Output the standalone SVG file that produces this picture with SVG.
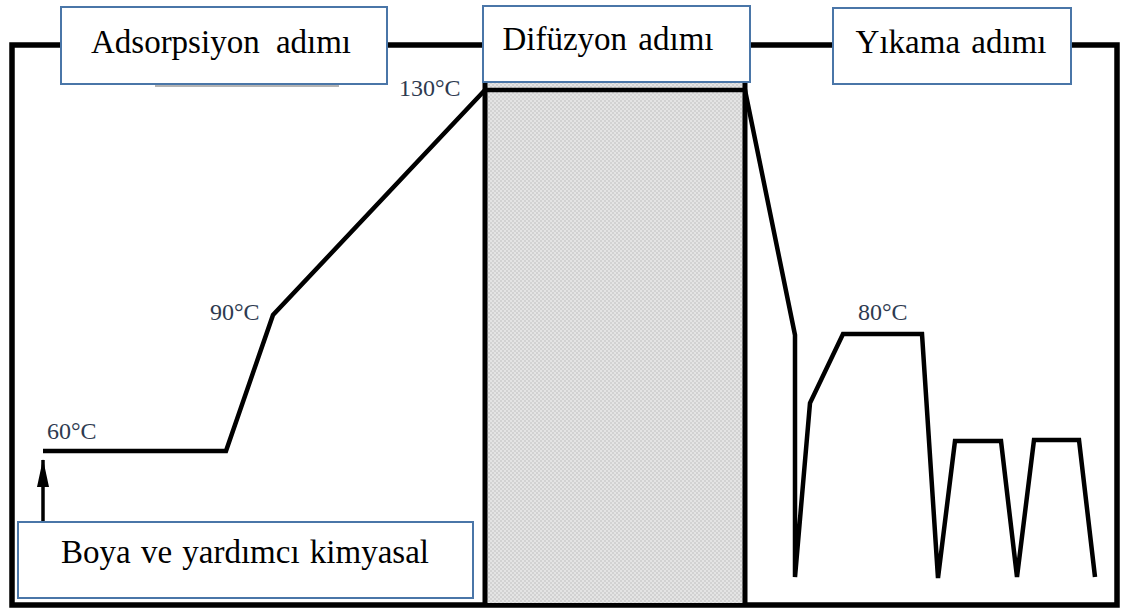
<svg xmlns="http://www.w3.org/2000/svg" width="1122" height="613" viewBox="0 0 1122 613">
  <defs>
    <pattern id="dots" width="4" height="4" patternUnits="userSpaceOnUse">
      <rect width="4" height="4" fill="#e4e4e4"/>
      <rect width="2" height="2" fill="#d2d2d2"/>
      <rect x="2" y="2" width="2" height="2" fill="#d2d2d2"/>
    </pattern>
    <marker id="arrow" viewBox="0 0 28 12" refX="27" refY="6" markerWidth="28" markerHeight="12" markerUnits="userSpaceOnUse" orient="auto">
      <path d="M0,0 L28,6 L0,12 Z" fill="#000"/>
    </marker>
  </defs>
  <style>
    .frame { fill: none; stroke: #000; stroke-width: 5.5; }
    .box { fill: #fff; stroke: #4a76a8; stroke-width: 2; }
    .label { font-family: "Liberation Serif", "Times New Roman", serif; font-size: 33px; fill: #000; text-anchor: middle; }
    .temp { font-family: "Liberation Serif", "Times New Roman", serif; font-size: 24px; fill: #2e3a50; }
    .profile { fill: none; stroke: #000; stroke-width: 4.5; stroke-linejoin: miter; stroke-linecap: butt; }
  </style>

  <rect width="1122" height="613" fill="#fff"/>

  <!-- outer frame -->
  <rect class="frame" x="12" y="45" width="1105" height="560"/>

  <!-- diffusion stage band -->
  <g id="diffusion-band">
    <rect x="487" y="82" width="256" height="521" fill="url(#dots)"/>
    <line x1="485" y1="82" x2="485" y2="605" stroke="#000" stroke-width="5"/>
    <line x1="745" y1="82" x2="745" y2="605" stroke="#000" stroke-width="5"/>
  </g>

  <!-- thin shadow line under the first heading -->
  <line x1="155" y1="86" x2="339" y2="86" stroke="#9a9a9a" stroke-width="1.5"/>

  <!-- temperature profile and dosing arrow -->
  <g id="connectors">
    <polyline class="profile" points="43,451 226,451 273,315 485,90 745,90 795,335 795,577 810,403 843,334 922,334 938,578 955,441 1001,441 1017,577 1034,440 1079,440 1095,577"/>
    <line x1="43" y1="522" x2="43" y2="460" stroke="#000" stroke-width="3.5" marker-end="url(#arrow)"/>
  </g>

  <!-- temperature labels -->
  <g id="temperatures">
    <text class="temp" x="399" y="96">130°C</text>
    <text class="temp" x="210" y="320">90°C</text>
    <text class="temp" x="47" y="439">60°C</text>
    <text class="temp" x="858" y="320">80°C</text>
  </g>

  <!-- stage headings -->
  <g id="adsorption">
    <rect class="box" x="61" y="7" width="326" height="77"/>
    <text class="label" x="221" y="53" word-spacing="8">Adsorpsiyon adımı</text>
  </g>
  <g id="diffusion">
    <rect class="box" x="483" y="6" width="267" height="76"/>
    <text class="label" x="608" y="50" word-spacing="3">Difüzyon adımı</text>
  </g>
  <g id="washing">
    <rect class="box" x="833" y="8" width="238" height="76"/>
    <text class="label" x="951" y="53" word-spacing="3">Yıkama adımı</text>
  </g>
  <g id="chemicals">
    <rect class="box" x="18" y="522" width="455" height="76"/>
    <text class="label" x="245" y="563" word-spacing="2">Boya ve yardımcı kimyasal</text>
  </g>
</svg>
